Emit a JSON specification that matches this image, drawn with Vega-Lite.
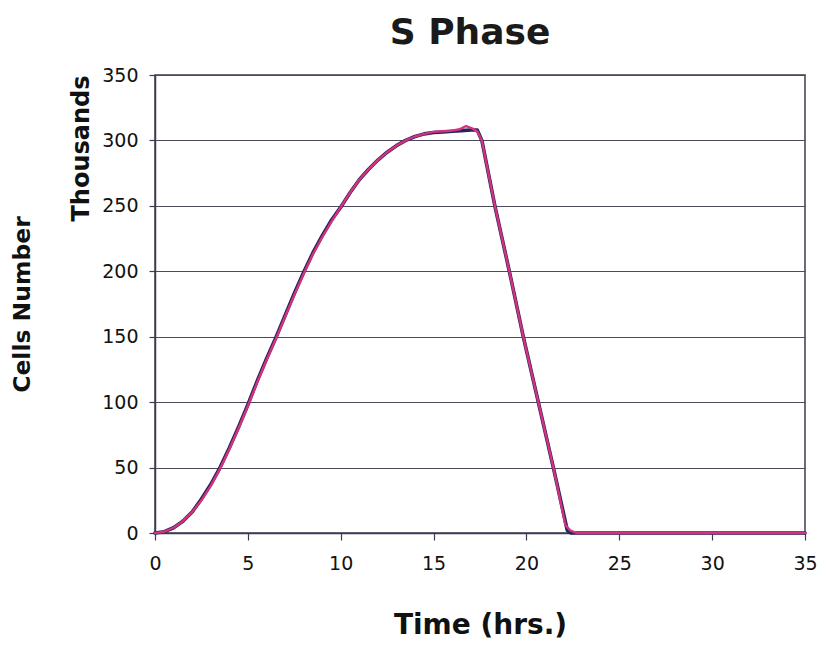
{
  "$schema": "https://vega.github.io/schema/vega-lite/v6.json",
  "autosize": "none",
  "width": 650,
  "height": 458,
  "padding": {"left": 155, "top": 75, "right": 18, "bottom": 122},
  "background": "white",
  "title": {"text": "S Phase", "font": "DejaVu Sans", "fontSize": 36, "fontWeight": "bold", "color": "#1a1a1a", "anchor": "middle", "frame": "group", "dx": -10, "dy": 44, "offset": 22, "baseline": "bottom"},
  "config": {
    "view": {"stroke": "#3c3c50", "strokeWidth": 1.5},
    "axis": {"labelFont": "DejaVu Sans", "labelFontSize": 19, "labelColor": "#111", "titleFont": "DejaVu Sans", "titleFontWeight": "bold", "titleColor": "#111", "domainColor": "#3c3c50", "tickColor": "#3c3c50", "gridColor": "#4a4a5a", "gridOpacity": 1}
  },
  "data": {"values": [
    {"series": "Observed", "t": 0, "cells": 0},
    {"series": "Observed", "t": 0.5, "cells": 1},
    {"series": "Observed", "t": 1, "cells": 4},
    {"series": "Observed", "t": 1.5, "cells": 9},
    {"series": "Observed", "t": 2, "cells": 16},
    {"series": "Observed", "t": 2.5, "cells": 26},
    {"series": "Observed", "t": 3, "cells": 37},
    {"series": "Observed", "t": 3.5, "cells": 50},
    {"series": "Observed", "t": 4, "cells": 65},
    {"series": "Observed", "t": 4.5, "cells": 81},
    {"series": "Observed", "t": 5, "cells": 98},
    {"series": "Observed", "t": 5.5, "cells": 116},
    {"series": "Observed", "t": 6, "cells": 133},
    {"series": "Observed", "t": 6.5, "cells": 149},
    {"series": "Observed", "t": 7, "cells": 166},
    {"series": "Observed", "t": 7.5, "cells": 183},
    {"series": "Observed", "t": 8, "cells": 199},
    {"series": "Observed", "t": 8.5, "cells": 214},
    {"series": "Observed", "t": 9, "cells": 227},
    {"series": "Observed", "t": 9.5, "cells": 239},
    {"series": "Observed", "t": 10, "cells": 249},
    {"series": "Observed", "t": 10.5, "cells": 260},
    {"series": "Observed", "t": 11, "cells": 270},
    {"series": "Observed", "t": 11.5, "cells": 278},
    {"series": "Observed", "t": 12, "cells": 285},
    {"series": "Observed", "t": 12.5, "cells": 291},
    {"series": "Observed", "t": 13, "cells": 296},
    {"series": "Observed", "t": 13.5, "cells": 300},
    {"series": "Observed", "t": 14, "cells": 303},
    {"series": "Observed", "t": 14.5, "cells": 305},
    {"series": "Observed", "t": 15, "cells": 306},
    {"series": "Observed", "t": 15.5, "cells": 306.5},
    {"series": "Observed", "t": 16, "cells": 307},
    {"series": "Observed", "t": 16.5, "cells": 307.5},
    {"series": "Observed", "t": 17, "cells": 308},
    {"series": "Observed", "t": 17.35, "cells": 308},
    {"series": "Observed", "t": 17.6, "cells": 300},
    {"series": "Observed", "t": 18.3, "cells": 250},
    {"series": "Observed", "t": 19.08, "cells": 200},
    {"series": "Observed", "t": 19.83, "cells": 150},
    {"series": "Observed", "t": 20.64, "cells": 100},
    {"series": "Observed", "t": 21.45, "cells": 50},
    {"series": "Observed", "t": 22.2, "cells": 2},
    {"series": "Observed", "t": 22.4, "cells": 0},
    {"series": "Observed", "t": 25, "cells": 0},
    {"series": "Observed", "t": 30, "cells": 0},
    {"series": "Observed", "t": 35, "cells": 0},
    {"series": "Model", "t": 0, "cells": 0},
    {"series": "Model", "t": 0.5, "cells": 1},
    {"series": "Model", "t": 1, "cells": 4},
    {"series": "Model", "t": 1.5, "cells": 9},
    {"series": "Model", "t": 2, "cells": 16},
    {"series": "Model", "t": 2.5, "cells": 25},
    {"series": "Model", "t": 3, "cells": 36},
    {"series": "Model", "t": 3.5, "cells": 49},
    {"series": "Model", "t": 4, "cells": 64},
    {"series": "Model", "t": 4.5, "cells": 80},
    {"series": "Model", "t": 5, "cells": 97},
    {"series": "Model", "t": 5.5, "cells": 115},
    {"series": "Model", "t": 6, "cells": 132},
    {"series": "Model", "t": 6.5, "cells": 148},
    {"series": "Model", "t": 7, "cells": 165},
    {"series": "Model", "t": 7.5, "cells": 182},
    {"series": "Model", "t": 8, "cells": 198},
    {"series": "Model", "t": 8.5, "cells": 213},
    {"series": "Model", "t": 9, "cells": 226},
    {"series": "Model", "t": 9.5, "cells": 238},
    {"series": "Model", "t": 10, "cells": 249},
    {"series": "Model", "t": 10.5, "cells": 260},
    {"series": "Model", "t": 11, "cells": 270},
    {"series": "Model", "t": 11.5, "cells": 278},
    {"series": "Model", "t": 12, "cells": 285},
    {"series": "Model", "t": 12.5, "cells": 291},
    {"series": "Model", "t": 13, "cells": 296},
    {"series": "Model", "t": 13.5, "cells": 300},
    {"series": "Model", "t": 14, "cells": 303},
    {"series": "Model", "t": 14.5, "cells": 305},
    {"series": "Model", "t": 15, "cells": 306.5},
    {"series": "Model", "t": 15.5, "cells": 307},
    {"series": "Model", "t": 16, "cells": 307.5},
    {"series": "Model", "t": 16.4, "cells": 308.5},
    {"series": "Model", "t": 16.75, "cells": 311},
    {"series": "Model", "t": 17.1, "cells": 309},
    {"series": "Model", "t": 17.35, "cells": 307},
    {"series": "Model", "t": 17.6, "cells": 300},
    {"series": "Model", "t": 18.3, "cells": 250},
    {"series": "Model", "t": 19.08, "cells": 200},
    {"series": "Model", "t": 19.83, "cells": 150},
    {"series": "Model", "t": 20.64, "cells": 100},
    {"series": "Model", "t": 21.45, "cells": 50},
    {"series": "Model", "t": 22.1, "cells": 6},
    {"series": "Model", "t": 22.35, "cells": 2},
    {"series": "Model", "t": 22.7, "cells": 0},
    {"series": "Model", "t": 25, "cells": 0},
    {"series": "Model", "t": 30, "cells": 0},
    {"series": "Model", "t": 35, "cells": 0}
  ]},
  "layer": [
    {
      "transform": [{"filter": "datum.series === 'Observed'"}],
      "mark": {"type": "line", "color": "#23235e", "strokeWidth": 3.6, "strokeJoin": "round", "strokeCap": "round"},
      "encoding": {
        "x": {"field": "t", "type": "quantitative", "scale": {"domain": [0, 35], "nice": false},
          "axis": {"title": "Time (hrs.)", "titleFontSize": 28, "titlePadding": 38, "values": [0, 5, 10, 15, 20, 25, 30, 35], "grid": false, "tickSize": 7, "labelPadding": 14, "domainWidth": 1.5, "tickWidth": 1.2, "labelFlush": false}},
        "y": {"field": "cells", "type": "quantitative", "scale": {"domain": [0, 350], "nice": false},
          "axis": {"orient": "left", "title": "Thousands", "titleFontSize": 24, "titleAnchor": "end", "titlePadding": 8, "values": [0, 50, 100, 150, 200, 250, 300, 350], "grid": true, "gridWidth": 1.1, "tickSize": 6, "labelPadding": 11, "domainWidth": 1.5, "tickWidth": 1.2}}
      }
    },
    {
      "transform": [{"filter": "datum.series === 'Model'"}],
      "mark": {"type": "line", "color": "#d4327c", "strokeWidth": 2.4, "strokeJoin": "round", "strokeCap": "round"},
      "encoding": {
        "x": {"field": "t", "type": "quantitative", "scale": {"domain": [0, 35], "nice": false},
          "axis": {"title": "Time (hrs.)", "titleFontSize": 28, "titlePadding": 38, "values": [0, 5, 10, 15, 20, 25, 30, 35], "grid": false, "tickSize": 7, "labelPadding": 14, "domainWidth": 1.5, "tickWidth": 1.2, "labelFlush": false}},
        "y": {"field": "cells", "type": "quantitative", "scale": {"domain": [0, 350], "nice": false},
          "axis": {"orient": "left", "title": "Cells Number", "titleFontSize": 23.5, "titleAnchor": "middle", "titlePadding": 121, "labels": false, "ticks": false, "domain": false, "grid": false}}
      }
    }
  ],
  "resolve": {"axis": {"y": "independent"}}
}
